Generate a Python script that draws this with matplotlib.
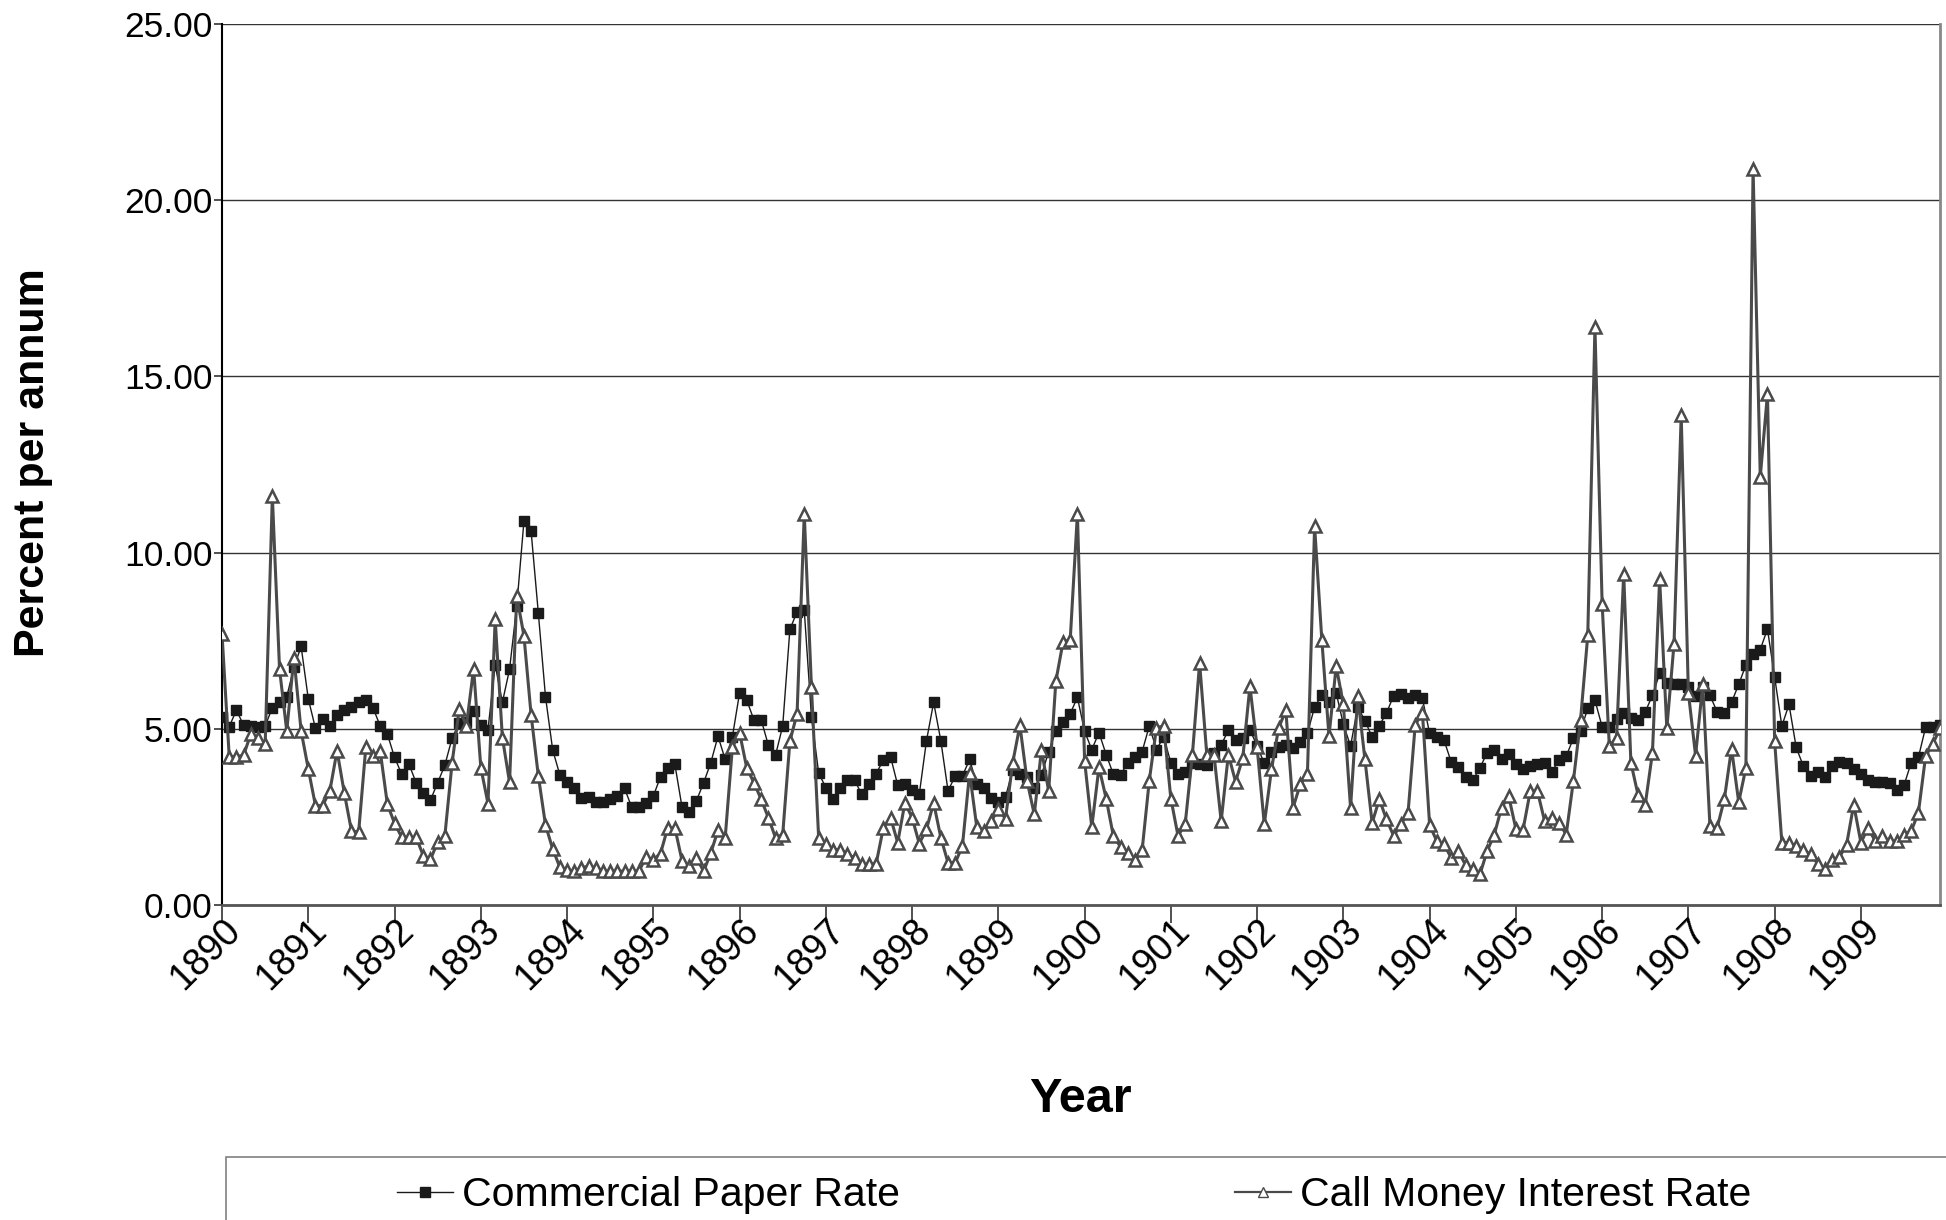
import numpy as np
import matplotlib
matplotlib.use('Agg')
import matplotlib.pyplot as plt
import matplotlib.transforms as mtransforms
from matplotlib.lines import Line2D
from matplotlib.patches import Rectangle

plt.rcParams['font.family'] = ['Liberation Sans', 'DejaVu Sans']

# monthly rates, Jan 1890 - Dec 1909 (percent per annum)
commercial_paper = [
    5.34, 5.06, 5.53, 5.10, 5.08, 5.06, 5.08, 5.60, 5.77, 5.91, 6.74, 7.34,
    5.85, 5.01, 5.29, 5.08, 5.39, 5.53, 5.62, 5.75, 5.81, 5.60, 5.08, 4.85,
    4.19, 3.71, 4.00, 3.47, 3.19, 2.98, 3.47, 3.97, 4.73, 5.17, 5.20, 5.51,
    5.10, 4.98, 6.81, 5.75, 6.69, 8.48, 10.89, 10.60, 8.29, 5.91, 4.40, 3.69,
    3.50, 3.31, 3.05, 3.07, 2.93, 2.91, 3.00, 3.09, 3.31, 2.77, 2.79, 2.90,
    3.09, 3.64, 3.90, 3.99, 2.77, 2.63, 2.96, 3.47, 4.04, 4.79, 4.13, 4.77,
    6.02, 5.81, 5.25, 5.26, 4.54, 4.25, 5.08, 7.82, 8.32, 8.36, 5.34, 3.75,
    3.33, 3.00, 3.33, 3.54, 3.54, 3.14, 3.42, 3.73, 4.11, 4.21, 3.40, 3.43,
    3.26, 3.14, 4.66, 5.75, 4.66, 3.24, 3.66, 3.66, 4.13, 3.43, 3.31, 3.04,
    2.93, 3.07, 3.83, 3.71, 3.62, 3.31, 3.69, 4.35, 4.94, 5.20, 5.43, 5.89,
    4.93, 4.41, 4.89, 4.27, 3.71, 3.69, 4.04, 4.21, 4.35, 5.08, 4.41, 4.77,
    4.04, 3.71, 3.78, 4.02, 4.00, 3.97, 4.32, 4.54, 4.96, 4.68, 4.75, 4.98,
    4.51, 4.02, 4.35, 4.49, 4.54, 4.46, 4.63, 4.87, 5.62, 5.95, 5.75, 6.02,
    5.13, 4.51, 5.62, 5.23, 4.77, 5.09, 5.45, 5.94, 6.00, 5.86, 5.97, 5.86,
    4.87, 4.77, 4.68, 4.06, 3.92, 3.64, 3.54, 3.89, 4.32, 4.40, 4.13, 4.28,
    4.00, 3.85, 3.94, 3.99, 4.02, 3.78, 4.11, 4.22, 4.73, 4.94, 5.58, 5.81,
    5.06, 5.04, 5.29, 5.45, 5.32, 5.26, 5.48, 5.95, 6.57, 6.30, 6.27, 6.27,
    6.19, 5.93, 6.19, 5.95, 5.48, 5.45, 5.75, 6.26, 6.81, 7.11, 7.25, 7.83,
    6.47, 5.08, 5.69, 4.47, 3.94, 3.66, 3.78, 3.62, 3.94, 4.06, 4.02, 3.86,
    3.71, 3.56, 3.50, 3.50, 3.45, 3.26, 3.40, 4.04, 4.19, 5.04, 5.06, 5.10,
]

call_money = [
    7.68, 4.21, 4.21, 4.25, 4.85, 4.75, 4.57, 11.60, 6.69, 4.94, 7.02, 4.94,
    3.86, 2.82, 2.82, 3.24, 4.38, 3.19, 2.11, 2.06, 4.47, 4.23, 4.38, 2.86,
    2.32, 1.92, 1.92, 1.92, 1.40, 1.30, 1.78, 1.97, 4.02, 5.56, 5.09, 6.71,
    3.90, 2.88, 8.11, 4.75, 3.48, 8.77, 7.64, 5.39, 3.67, 2.27, 1.59, 1.07,
    1.00, 0.96, 1.06, 1.10, 1.06, 0.96, 0.96, 0.96, 0.96, 0.96, 0.96, 1.36,
    1.29, 1.46, 2.19, 2.19, 1.25, 1.10, 1.34, 0.96, 1.48, 2.12, 1.91, 4.48,
    4.89, 3.89, 3.47, 3.00, 2.48, 1.91, 2.00, 4.65, 5.43, 11.10, 6.18, 1.91,
    1.74, 1.57, 1.57, 1.44, 1.34, 1.15, 1.15, 1.17, 2.19, 2.48, 1.77, 2.90,
    2.48, 1.74, 2.15, 2.90, 1.91, 1.20, 1.20, 1.67, 3.75, 2.21, 2.10, 2.38,
    2.71, 2.45, 4.04, 5.10, 3.52, 2.57, 4.41, 3.23, 6.35, 7.46, 7.53, 11.10,
    4.09, 2.21, 3.91, 3.02, 1.96, 1.65, 1.48, 1.27, 1.55, 3.53, 5.03, 5.08,
    3.02, 1.96, 2.31, 4.27, 6.87, 4.27, 4.27, 2.38, 4.27, 3.50, 4.16, 6.21,
    4.47, 2.29, 3.85, 5.03, 5.52, 2.76, 3.42, 3.71, 10.75, 7.53, 4.79, 6.78,
    5.69, 2.76, 5.93, 4.13, 2.33, 3.00, 2.43, 1.96, 2.29, 2.62, 5.12, 5.45,
    2.27, 1.81, 1.72, 1.34, 1.53, 1.13, 1.01, 0.87, 1.53, 2.00, 2.76, 3.09,
    2.16, 2.14, 3.23, 3.23, 2.38, 2.48, 2.34, 2.00, 3.52, 5.26, 7.65, 16.40,
    8.55, 4.51, 4.74, 9.40, 4.04, 3.12, 2.85, 4.32, 9.25, 5.01, 7.41, 13.90,
    6.02, 4.24, 6.26, 2.24, 2.19, 3.00, 4.44, 2.92, 3.89, 20.90, 12.15, 14.50,
    4.65, 1.77, 1.77, 1.67, 1.55, 1.44, 1.17, 1.01, 1.29, 1.36, 1.70, 2.85,
    1.77, 2.19, 1.81, 1.96, 1.81, 1.81, 2.00, 2.10, 2.62, 4.22, 4.57, 5.01,
]

years = list(range(1890, 1910))
months = np.arange(len(commercial_paper))

fig = plt.figure(figsize=(19.46, 12.2), dpi=100)
ax = fig.add_axes([0.1141, 0.2582, 0.8828, 0.7221])

cp_style = dict(color='#1a1a1a', lw=1.0, marker='s', markersize=6.8,
                markerfacecolor='#1a1a1a', markeredgecolor='#1a1a1a')
call_style = dict(color='#4a4a4a', lw=2.2, marker='^', markersize=9,
                  markerfacecolor='white', markeredgecolor='#4a4a4a',
                  markeredgewidth=1.8)

ax.plot(months, commercial_paper, zorder=3, **cp_style)
ax.plot(months, call_money, zorder=4, **call_style)

ax.set_xlim(0, len(months) - 1)
ax.set_ylim(0, 25)
ax.set_yticks(np.arange(0, 26, 5))
ax.set_yticklabels(['%.2f' % v for v in np.arange(0, 26, 5)], fontsize=25.5)
ax.yaxis.grid(True, color='#333333', lw=1.0)
ax.set_axisbelow(True)

# year ticks; labels drawn as rotated texts ending just right of each tick
ax.set_xticks(months[::12])
ax.set_xticklabels([])
ax.tick_params(axis='x', length=13, width=1.2, color='#333333')
ax.tick_params(axis='y', length=6, width=1.2, color='#333333', pad=1)
lbl_trans = mtransforms.blended_transform_factory(ax.transData, ax.transAxes) \
    + mtransforms.ScaledTranslation(13 / 100, -20 / 100, fig.dpi_scale_trans)
for m, y in zip(months[::12], years):
    ax.text(m, 0, str(y), transform=lbl_trans, fontsize=27, rotation=45,
            ha='right', va='center', rotation_mode='anchor', clip_on=False)

ax.spines['top'].set_visible(False)
ax.spines['left'].set_color('black')
ax.spines['left'].set_linewidth(1.5)
ax.spines['bottom'].set_color('#555555')
ax.spines['bottom'].set_linewidth(2)
ax.spines['right'].set_color('#888888')
ax.spines['right'].set_linewidth(2)

fig.text(0.017, 0.621, 'Percent per annum', rotation=90, ha='center',
         va='center', fontsize=31, fontweight='bold')
fig.text(0.555, 0.0985, 'Year', ha='center', va='center', fontsize=35,
         fontweight='bold')

# legend box, cut off at the bottom and right like the original
fig.patches.append(Rectangle((0.1161, -0.03), 0.95, 0.0816,
                             transform=fig.transFigure, fill=False,
                             edgecolor='#808080', lw=1.2, clip_on=False))

h1 = Line2D([], [], color='#1a1a1a', lw=1.0, marker='s', markersize=6.8)
h2 = Line2D([], [], color='#4a4a4a', lw=1.6, marker='^', markersize=7,
            markerfacecolor='white', markeredgecolor='#4a4a4a')
for h, lab, x0 in [(h1, 'Commercial Paper Rate', 397),
                   (h2, 'Call Money Interest Rate', 1235)]:
    fig.legend(handles=[h], labels=[lab], loc='center left',
               bbox_to_anchor=(x0 / 1946, 1 - 1195 / 1220), frameon=False,
               borderpad=0, borderaxespad=0, handlelength=1.37,
               handletextpad=0.22, fontsize=29.5)

fig.savefig('out.png', dpi=100)
